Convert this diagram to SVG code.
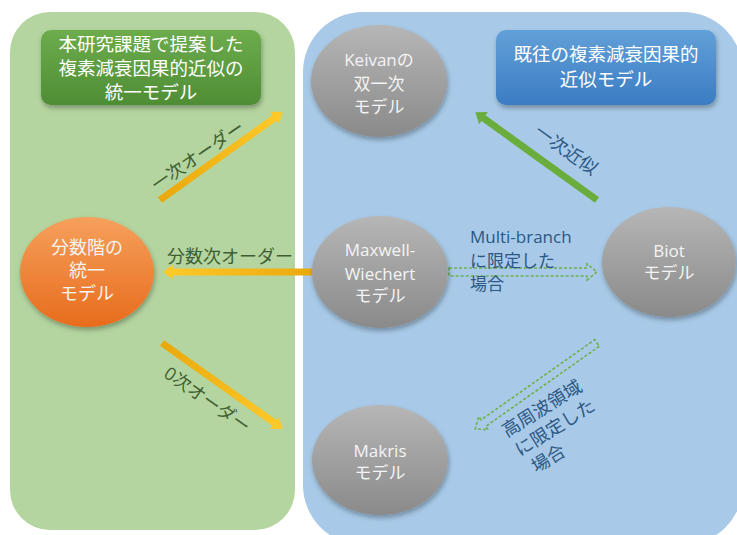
<svg xmlns="http://www.w3.org/2000/svg" width="737" height="535" viewBox="0 0 737 535">
<defs>
<style>
text{font-family:"Open Sans","Noto Sans CJK JP",sans-serif;}
.nt{fill:#f4f4f4;font-size:17px;text-anchor:middle;}
.tt{fill:#ffffff;font-size:18.5px;text-anchor:middle;}
.lg{fill:#3f5f32;font-size:18px;}
.lb{fill:#2c5784;font-size:17px;}
.gray{fill:url(#gGray);filter:url(#sh);}
.yarrow{fill:url(#gYel);}
.harrow{fill:none;stroke:#6fb04a;stroke-width:1.6;stroke-dasharray:3 2;}
</style>
<linearGradient id="gGray" x1="0" y1="0" x2="0" y2="1">
<stop offset="0" stop-color="#b6b6b6"/><stop offset="1" stop-color="#8a8a8a"/>
</linearGradient>
<linearGradient id="gOr" x1="0" y1="0" x2="0" y2="1">
<stop offset="0" stop-color="#f5a05c"/><stop offset="1" stop-color="#e86c1c"/>
</linearGradient>
<linearGradient id="gGrn" x1="0" y1="0" x2="0" y2="1">
<stop offset="0" stop-color="#6dac4c"/><stop offset="1" stop-color="#4f8d35"/>
</linearGradient>
<linearGradient id="gBlu" x1="0" y1="0" x2="0" y2="1">
<stop offset="0" stop-color="#62a0d8"/><stop offset="1" stop-color="#3b7cc3"/>
</linearGradient>
<linearGradient id="gYel" x1="0" y1="0" x2="1" y2="0">
<stop offset="0" stop-color="#e9a80c"/><stop offset="1" stop-color="#ffca2a"/>
</linearGradient>
<filter id="sh" x="-20%" y="-20%" width="140%" height="150%">
<feDropShadow dx="1" dy="3" stdDeviation="2.5" flood-color="#000" flood-opacity="0.3"/>
</filter>
</defs>
<rect width="737" height="535" fill="#ffffff"/>
<g id="panel-left"><rect x="10" y="12" width="285" height="518" rx="40" fill="#b4d59f"/></g>
<g id="panel-right"><rect x="303" y="12" width="440" height="533" rx="60" fill="#a8cae8"/></g>

<g id="title-proposed">
<rect x="41" y="30" width="220" height="75" rx="10" fill="url(#gGrn)" filter="url(#sh)"/>
<text class="tt" x="151" y="51">本研究課題で提案した</text>
<text class="tt" x="151" y="75">複素減衰因果的近似の</text>
<text class="tt" x="151" y="99">統一モデル</text>
</g>
<g id="title-existing">
<rect x="496" y="30" width="220" height="75" rx="10" fill="url(#gBlu)" filter="url(#sh)"/>
<text class="tt" x="606" y="61">既往の複素減衰因果的</text>
<text class="tt" x="606" y="86">近似モデル</text>
</g>

<g id="connectors">
<g transform="translate(160,200) rotate(-35.6)"><polygon class="yarrow" points="0,-3.5 141,-3.5 141,-7.5 151,0 141,7.5 141,3.5 0,3.5"/></g>
<g transform="translate(315,272) rotate(180)"><polygon class="yarrow" points="0,-3.5 142,-3.5 142,-7.5 152,0 142,7.5 142,3.5 0,3.5"/></g>
<g transform="translate(162,343) rotate(35.4)"><polygon class="yarrow" points="0,-3.5 138,-3.5 138,-7.5 148,0 138,7.5 138,3.5 0,3.5"/></g>
<g transform="translate(597,200) rotate(-144.2)"><polygon fill="#6aad3c" points="0,-3.5 140,-3.5 140,-7.5 150,0 140,7.5 140,3.5 0,3.5"/></g>
<g transform="translate(449,272)"><polygon class="harrow" points="0,-4 138,-4 138,-8 148,0 138,8 138,4 0,4"/></g>
<g transform="translate(597,343) rotate(144.8)"><polygon class="harrow" points="0,-4 139,-4 139,-8 149,0 139,8 139,4 0,4"/></g>
<text class="lg" text-anchor="middle" transform="translate(198,156) rotate(-34.6)" y="6">一次オーダー</text>
<text class="lg" x="167" y="263">分数次オーダー</text>
<text class="lg" text-anchor="middle" transform="translate(207,400) rotate(35)" y="6">0次オーダー</text>
<text class="lb" text-anchor="middle" transform="translate(566,150) rotate(35.5)" y="6" style="font-size:18px">一次近似</text>
<text class="lb" x="470" y="243">Multi-branch</text>
<text class="lb" x="470" y="267">に限定した</text>
<text class="lb" x="470" y="290">場合</text>
<text class="lb" transform="translate(511,427) rotate(-32)" style="font-size:18px">
<tspan x="-9" y="7">高周波領域</tspan>
<tspan x="-8" y="30">に限定した</tspan>
<tspan x="-3" y="53">場合</tspan>
</text>
</g>

<g id="node-fractional">
<ellipse cx="87" cy="272" rx="67" ry="55" fill="url(#gOr)" filter="url(#sh)"/>
<text class="nt" x="87" y="254" style="font-size:18px">分数階の</text>
<text class="nt" x="87" y="277" style="font-size:18px">統一</text>
<text class="nt" x="87" y="300" style="font-size:18px">モデル</text>
</g>
<g id="node-keivan">
<ellipse class="gray" cx="379" cy="81" rx="68" ry="56"/>
<text class="nt" x="379" y="66">Keivanの</text>
<text class="nt" x="379" y="90">双一次</text>
<text class="nt" x="379" y="113">モデル</text>
</g>
<g id="node-maxwell">
<ellipse class="gray" cx="380" cy="272" rx="68" ry="56"/>
<text class="nt" x="380" y="256">Maxwell-</text>
<text class="nt" x="380" y="280">Wiechert</text>
<text class="nt" x="380" y="302">モデル</text>
</g>
<g id="node-biot">
<ellipse class="gray" cx="669" cy="262" rx="67" ry="55"/>
<text class="nt" x="669" y="257">Biot</text>
<text class="nt" x="669" y="279">モデル</text>
</g>
<g id="node-makris">
<ellipse class="gray" cx="380" cy="460" rx="68" ry="55"/>
<text class="nt" x="380" y="457">Makris</text>
<text class="nt" x="380" y="479">モデル</text>
</g>
</svg>
